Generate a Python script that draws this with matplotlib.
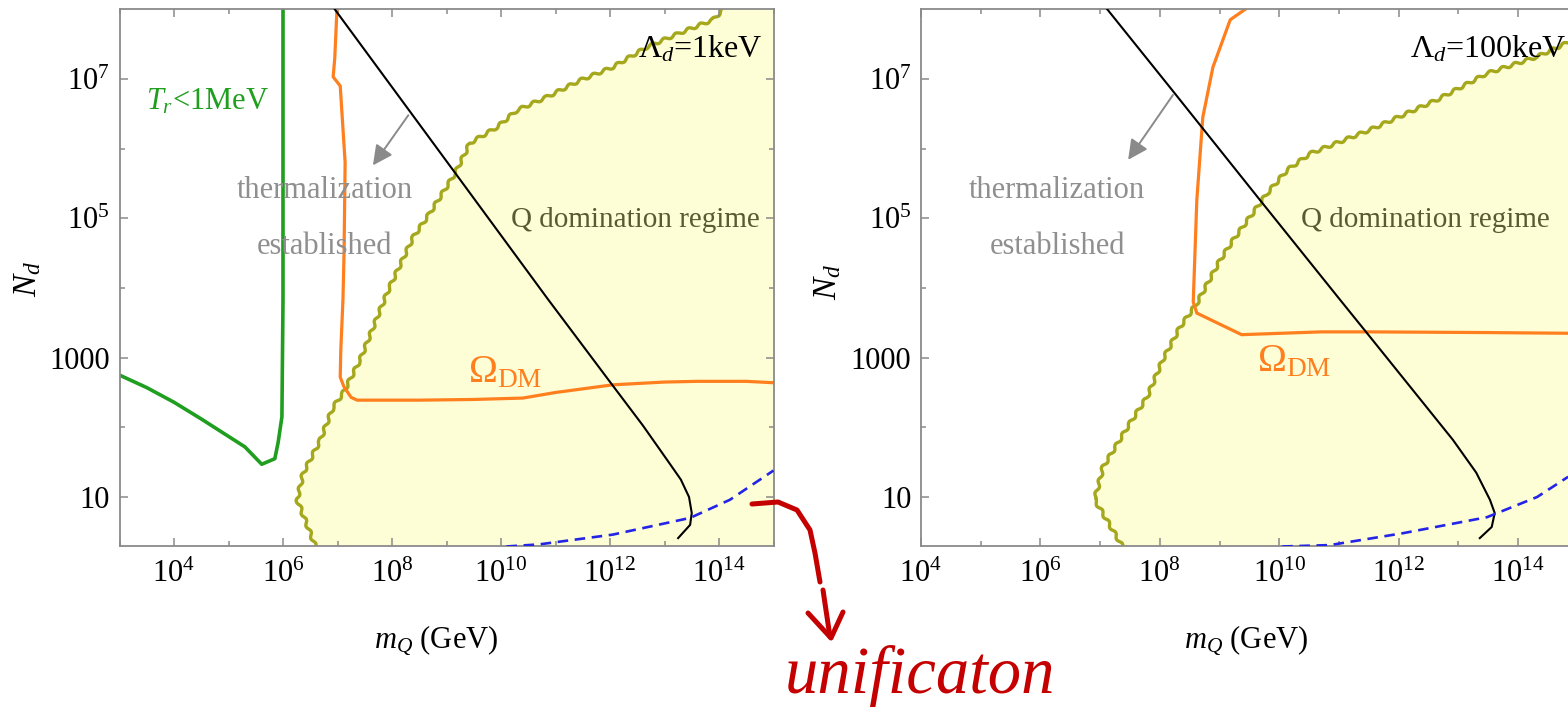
import numpy as np
import matplotlib.pyplot as plt
from matplotlib.ticker import FixedLocator, NullFormatter

plt.rcParams['font.family'] = ['Liberation Serif', 'DejaVu Serif']
plt.rcParams['mathtext.fontset'] = 'custom'
plt.rcParams['mathtext.rm'] = 'Liberation Serif'
plt.rcParams['mathtext.it'] = 'Liberation Serif:italic'
plt.rcParams['mathtext.bf'] = 'Liberation Serif:bold'

# values, as (log10 m_Q/GeV, log10 N_d)
# left panel: Lambda_d = 1 keV
green_l_logm = [3.0, 3.5, 4.0, 4.5, 5.0, 5.3, 5.61, 5.85, 5.91, 5.98, 6.0, 6.0]
green_l_logn = [2.75, 2.57, 2.36, 2.12, 1.87, 1.72, 1.47, 1.55, 1.78, 2.15, 3.83, 8.0]

orange_l_logm = [6.99, 6.95, 6.92, 7.05, 7.14, 7.12, 7.10, 7.06, 7.05, 7.12, 7.25, 7.36,
                 8.5, 9.5, 10.4, 11.0, 12.05, 13.0, 13.6, 14.5, 15.0]
orange_l_logn = [8.0, 7.3, 7.03, 6.9, 5.8, 4.5, 3.83, 3.1, 2.72, 2.58, 2.43, 2.39,
                 2.39, 2.40, 2.42, 2.5, 2.61, 2.65, 2.66, 2.66, 2.64]

black_l_logm = [6.95, 9.16, 10.86, 12.05, 12.6, 13.05, 13.3, 13.45, 13.5, 13.47, 13.25]
black_l_logn = [8.0, 5.65, 3.84, 2.60, 2.03, 1.53, 1.25, 1.0, 0.77, 0.6, 0.41]

blue_l_logm = [10.1, 10.7, 12.05, 13.47, 14.2, 15.0]
blue_l_logn = [0.29, 0.32, 0.46, 0.70, 0.96, 1.38]

qdom_l_logm = [6.6, 6.26, 6.37, 6.68, 6.92, 7.1, 7.41, 7.78, 7.96, 8.39, 8.70, 9.16, 9.43,
               9.93, 10.29, 10.84, 11.45, 12.05, 12.68, 13.28, 13.89, 14.08]
qdom_l_logn = [0.28, 0.96, 1.34, 1.81, 2.29, 2.49, 2.96, 3.68, 4.02, 4.73, 5.08, 5.65, 6.08,
               6.31, 6.55, 6.74, 6.98, 7.17, 7.46, 7.66, 7.85, 8.0]

# right panel: Lambda_d = 100 keV
orange_r_logm = [9.43, 9.18, 8.89, 8.72, 8.62, 8.56, 8.62, 9.37, 10.7, 11.52, 13.5, 14.85]
orange_r_logn = [8.0, 7.85, 7.17, 6.45, 5.26, 3.8, 3.64, 3.33, 3.37, 3.37, 3.36, 3.35]

black_r_logm = [7.12, 8.17, 9.68, 11.02, 11.52, 12.91, 13.3, 13.53, 13.61, 13.56, 13.36]
black_r_logn = [8.0, 6.88, 5.26, 3.83, 3.30, 1.82, 1.35, 0.96, 0.77, 0.57, 0.41]

blue_r_logm = [10.05, 10.85, 12.07, 13.48, 14.32, 14.84]
blue_r_logn = [0.29, 0.31, 0.48, 0.71, 1.0, 1.29]

qdom_r_logm = [7.38, 6.91, 7.05, 7.50, 7.79, 8.05, 8.34, 8.62, 9.01, 9.23, 9.80, 10.13,
               10.52, 11.52, 12.64, 13.48, 14.32, 14.85]
qdom_r_logn = [0.28, 0.96, 1.43, 2.06, 2.44, 2.97, 3.44, 3.78, 4.40, 4.69, 5.36, 5.69,
               5.93, 6.27, 6.70, 7.08, 7.32, 7.53]

# hand-drawn red note, in figure pixels
note_line_x = [752, 778, 797, 810, 815, 820]
note_line_y = [504, 502, 510, 530, 553, 582]
note_tail_x = [823, 830]
note_tail_y = [590, 637]
note_head_x = [808, 831, 843]
note_head_y = [613, 638, 612]

GREEN = '#1f9e1f'
ORANGE = '#ff7f1e'
OLIVE = '#a5a81c'
FILL = '#fdfdd6'
BLUE = '#2424e8'
GREY_TXT = '#8f8f8f'
QTXT = '#5a5a32'
FRAME = '#8a8a8a'


def p(v):
    return 10 ** np.array(v)


W, H = 1568, 719
fig = plt.figure(figsize=(W / 100, H / 100), dpi=100)

ax_l = fig.add_axes([119.5 / W, 1 - 545.7 / H, 654 / W, 536.4 / H])
ax_r = fig.add_axes([921 / W, 1 - 545.7 / H, 656.7 / W, 536.4 / H])


def style_axes(ax, xmin):
    ax.set_xscale('log')
    ax.set_yscale('log')
    ax.set_xlim(10 ** xmin, 1e15)
    ax.set_ylim(2, 1e8)
    xmaj = [10 ** k for k in range(4, 15, 2)]
    ax.xaxis.set_major_locator(FixedLocator(xmaj))
    ax.set_xticklabels([r'$10^{%d}$' % k for k in range(4, 15, 2)])
    ax.xaxis.set_minor_locator(FixedLocator([10 ** k for k in range(3, 16, 2)]))
    ax.xaxis.set_minor_formatter(NullFormatter())
    ax.yaxis.set_major_locator(FixedLocator([10, 1e3, 1e5, 1e7]))
    ax.set_yticklabels(['10', '1000', r'$10^{5}$', r'$10^{7}$'])
    ax.yaxis.set_minor_locator(FixedLocator([100, 1e4, 1e6]))
    ax.yaxis.set_minor_formatter(NullFormatter())
    ax.tick_params(which='both', direction='in', top=True, right=True,
                   color=FRAME, width=1.1, labelsize=22)
    ax.tick_params(which='major', length=6, pad=7)
    ax.tick_params(which='minor', length=3.5)
    ax.tick_params(axis='x', which='major', pad=10)
    for s in ax.spines.values():
        s.set_color(FRAME)
        s.set_linewidth(1.3)


def q_boundary(ax, xs, ys):
    ax.fill(p(xs + [15.2, 15.2]), p(ys + [8.2, 0.28]), color=FILL, lw=0, zorder=0)
    line, = ax.plot(p(xs), p(ys), color=OLIVE, lw=2.4, zorder=1)
    # jagged edge like the grid-sampled region boundary of the original
    line.set_sketch_params(scale=1.5, length=13, randomness=1)


style_axes(ax_l, 3)
style_axes(ax_r, 4)

# left panel
q_boundary(ax_l, qdom_l_logm, qdom_l_logn)
ax_l.plot(p(green_l_logm), p(green_l_logn), color=GREEN, lw=2.6, zorder=2)
ax_l.plot(p(orange_l_logm), p(orange_l_logn), color=ORANGE, lw=2.3, zorder=2)
ax_l.plot(p(black_l_logm), p(black_l_logn), color='black', lw=1.5, zorder=3)
ax_l.plot(p(blue_l_logm), p(blue_l_logn), color=BLUE, lw=1.9, ls=(0, (4, 2.5)), zorder=3)

ax_l.text(10 ** 4.61, 10 ** 6.67, r'$T_r$<1MeV', color=GREEN, fontsize=22,
          ha='center', va='center')
ax_l.text(10 ** 6.77, 10 ** 5.40, 'thermalization', color=GREY_TXT, fontsize=22,
          ha='center', va='center')
ax_l.text(10 ** 6.77, 10 ** 4.60, 'established', color=GREY_TXT, fontsize=22,
          ha='center', va='center')
ax_l.text(10 ** 14.75, 10 ** 4.98, 'Q domination regime', color=QTXT, fontsize=21,
          ha='right', va='center')
ax_l.text(10 ** 14.79, 10 ** 7.42, r'$\Lambda_d$=1keV', color='black', fontsize=23,
          ha='right', va='center')
ax_l.text(10 ** 9.39, 10 ** 2.65, r'$\Omega_{\rm DM}$', color=ORANGE, fontsize=28,
          ha='left', va='baseline')
ax_l.annotate('', xy=(10 ** 7.65, 10 ** 5.76), xytext=(10 ** 8.30, 10 ** 6.48),
              arrowprops=dict(arrowstyle='-|>', color='#8a8a8a', lw=1.4,
                              mutation_scale=30, shrinkA=0, shrinkB=0))

# right panel
q_boundary(ax_r, qdom_r_logm, qdom_r_logn)
ax_r.plot(p(orange_r_logm), p(orange_r_logn), color=ORANGE, lw=2.3, zorder=2)
ax_r.plot(p(black_r_logm), p(black_r_logn), color='black', lw=1.5, zorder=3)
ax_r.plot(p(blue_r_logm), p(blue_r_logn), color=BLUE, lw=1.9, ls=(0, (4, 2.5)), zorder=3)

ax_r.text(10 ** 6.28, 10 ** 5.40, 'thermalization', color=GREY_TXT, fontsize=22,
          ha='center', va='center')
ax_r.text(10 ** 6.28, 10 ** 4.60, 'established', color=GREY_TXT, fontsize=22,
          ha='center', va='center')
ax_r.text(10 ** 14.54, 10 ** 4.98, 'Q domination regime', color=QTXT, fontsize=21,
          ha='right', va='center')
ax_r.text(10 ** 12.19, 10 ** 7.42, r'$\Lambda_d$=100keV', color='black', fontsize=23,
          ha='left', va='center')
ax_r.text(10 ** 9.63, 10 ** 2.80, r'$\Omega_{\rm DM}$', color=ORANGE, fontsize=28,
          ha='left', va='baseline')
ax_r.annotate('', xy=(10 ** 7.47, 10 ** 5.84), xytext=(10 ** 8.22, 10 ** 6.77),
              arrowprops=dict(arrowstyle='-|>', color='#8a8a8a', lw=1.4,
                              mutation_scale=30, shrinkA=0, shrinkB=0))

# axis labels
fig.text(28 / W, 1 - 279 / H, r'$N_d$', fontsize=24, rotation=90, ha='center', va='center')
fig.text(828 / W, 1 - 282 / H, r'$N_d$', fontsize=24, rotation=90, ha='center', va='center')
fig.text(436 / W, 1 - 640 / H, r'$m_Q$ (GeV)', fontsize=22, ha='center', va='center')
fig.text(1246 / W, 1 - 640 / H, r'$m_Q$ (GeV)', fontsize=22, ha='center', va='center')

# red handwritten note
ov = fig.add_axes([0, 0, 1, 1])
ov.set_xlim(0, W)
ov.set_ylim(H, 0)
ov.axis('off')
red = '#c40000'
ov.plot(note_line_x, note_line_y, color=red, lw=3.6, solid_capstyle='round')
ov.plot(note_tail_x, note_tail_y, color=red, lw=3.6, solid_capstyle='round')
ov.plot(note_head_x, note_head_y, color=red, lw=3.6, solid_capstyle='round',
        solid_joinstyle='round')
ov.text(785, 693, 'unificaton', color=red, fontsize=48, fontstyle='italic',
        ha='left', va='baseline')

fig.savefig('out.png', dpi=100)
